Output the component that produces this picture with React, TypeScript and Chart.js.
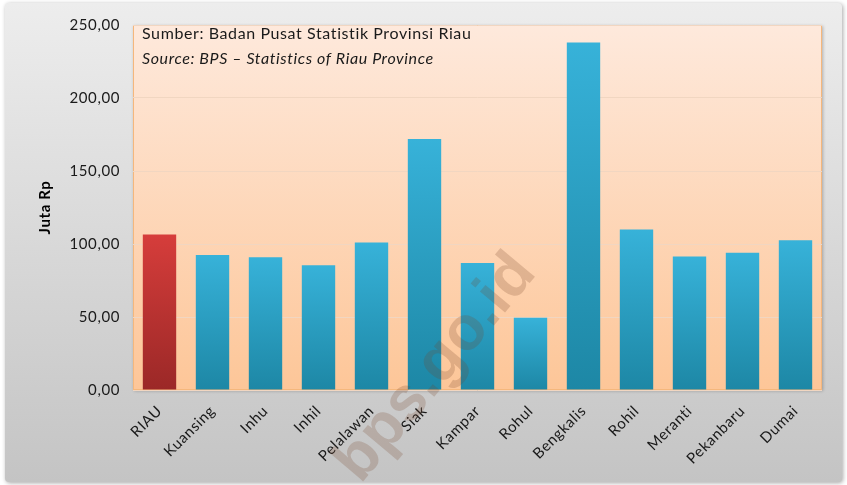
import React, { useEffect, useRef } from 'react';
import { Chart, registerables } from 'chart.js';
Chart.register(...registerables);

const categories = ['RIAU', 'Kuansing', 'Inhu', 'Inhil', 'Pelalawan', 'Siak', 'Kampar', 'Rohul', 'Bengkalis', 'Rohil', 'Meranti', 'Pekanbaru', 'Dumai'];
const values = [106.5, 92.5, 91, 85.5, 101, 172, 87, 49.5, 238, 110, 91.5, 94, 102.5];
const highlightIndex = 0;
const yMin = 0;
const yMax = 250;
const yStep = 50;
const yTitle = 'Juta Rp';
const sourceLine1 = 'Sumber: Badan Pusat Statistik Provinsi Riau';
const sourceLine2 = 'Source: BPS \u2013 Statistics of Riau Province';
const watermark = 'bps.go.id';

const FONT = 'Lato, "Noto Sans", sans-serif';

function fmt(v: number) {
  return v.toFixed(2).replace('.', ',');
}

function roundRect(ctx: CanvasRenderingContext2D, x: number, y: number, w: number, h: number, r: number) {
  ctx.beginPath();
  ctx.moveTo(x + r, y);
  ctx.lineTo(x + w - r, y);
  ctx.quadraticCurveTo(x + w, y, x + w, y + r);
  ctx.lineTo(x + w, y + h - r);
  ctx.quadraticCurveTo(x + w, y + h, x + w - r, y + h);
  ctx.lineTo(x + r, y + h);
  ctx.quadraticCurveTo(x, y + h, x, y + h - r);
  ctx.lineTo(x, y + r);
  ctx.quadraticCurveTo(x, y, x + r, y);
  ctx.closePath();
}

const bgPlugin = {
  id: 'bgPlugin',
  beforeDraw(chart: any) {
    const { ctx, chartArea, width, height } = chart;
    (ctx as any).letterSpacing = '0.6px';
    ctx.save();
    ctx.fillStyle = '#ffffff';
    ctx.fillRect(0, 0, width, height);
    ctx.shadowColor = 'rgba(0,0,0,0.35)';
    ctx.shadowBlur = 4;
    ctx.shadowOffsetX = 1;
    ctx.shadowOffsetY = 1;
    const g = ctx.createLinearGradient(0, 3, 0, 482);
    g.addColorStop(0, '#ededed');
    g.addColorStop(1, '#c4c4c4');
    ctx.fillStyle = g;
    roundRect(ctx, 5, 3, 837, 479, 4);
    ctx.fill();
    ctx.restore();
    ctx.save();
    const { left, top, right, bottom } = chartArea;
    const pg = ctx.createLinearGradient(0, top, 0, bottom);
    pg.addColorStop(0, '#fee9dc');
    pg.addColorStop(1, '#fdc698');
    ctx.shadowColor = 'rgba(0,0,0,0.25)';
    ctx.shadowBlur = 3;
    ctx.shadowOffsetX = 1;
    ctx.shadowOffsetY = 1;
    ctx.fillStyle = pg;
    ctx.fillRect(left, top, right - left, bottom - top);
    ctx.shadowColor = 'transparent';
    ctx.strokeStyle = '#f5b77c';
    ctx.lineWidth = 1;
    ctx.strokeRect(left + 0.5, top + 0.5, right - left - 1, bottom - top - 1);
    ctx.restore();
  },
  afterDatasetsDraw(chart: any) {
    const { ctx, chartArea } = chart;
    ctx.save();
    ctx.fillStyle = '#1a1a1a';
    ctx.textBaseline = 'middle';
    ctx.textAlign = 'left';
    ctx.font = `16px ${FONT}`;
    ctx.fillText(sourceLine1, chartArea.left + 9, chartArea.top + 9);
    ctx.font = `italic 16px ${FONT}`;
    ctx.fillText(sourceLine2, chartArea.left + 9, chartArea.top + 34);
    ctx.restore();
  },
  afterDraw(chart: any) {
    const { ctx } = chart;
    ctx.save();
    (ctx as any).letterSpacing = '0px';
    ctx.translate(436, 368);
    ctx.rotate(-50 * Math.PI / 180);
    ctx.font = `bold 62px Arial, "Liberation Sans", sans-serif`;
    ctx.fillStyle = 'rgba(120,70,40,0.22)';
    ctx.textAlign = 'center';
    ctx.textBaseline = 'middle';
    ctx.fillText(watermark, 0, 0);
    ctx.restore();
  },
};

function barColor(context: any) {
  const chart = context.chart;
  const isHi = context.dataIndex === highlightIndex;
  const topC = isHi ? '#d63d3b' : '#37b2d9';
  const botC = isHi ? '#9b2827' : '#1d87a5';
  const area = chart.chartArea;
  if (!area || !chart.scales || !chart.scales.y) return topC;
  const yScale = chart.scales.y;
  const v = values[context.dataIndex];
  const yTop = yScale.getPixelForValue(v);
  const yBot = yScale.getPixelForValue(0);
  if (!isFinite(yTop) || !isFinite(yBot) || yTop === yBot) return topC;
  const g = chart.ctx.createLinearGradient(0, yTop, 0, yBot);
  g.addColorStop(0, topC);
  g.addColorStop(1, botC);
  return g;
}

export default function App() {
  const ref = useRef<HTMLCanvasElement | null>(null);
  useEffect(() => {
    document.body.style.margin = '0';
    const canvas = ref.current;
    if (!canvas) return;
    const chart = new Chart(canvas, {
      type: 'bar',
      data: {
        labels: categories,
        datasets: [
          {
            data: values,
            backgroundColor: barColor as any,
            borderWidth: 0,
            barPercentage: 0.63,
            categoryPercentage: 1,
          },
        ],
      },
      options: {
        animation: false,
        responsive: false,
        devicePixelRatio: 1,
        layout: { padding: { left: 0, right: 25, top: 25, bottom: 0 } },
        plugins: {
          legend: { display: false },
          tooltip: { enabled: false },
        },
        scales: {
          x: {
            grid: { display: false, drawTicks: false },
            border: { display: false },
            ticks: {
              color: '#1a1a1a',
              font: { family: FONT, size: 15 },
              maxRotation: 45,
              minRotation: 45,
              padding: 12,
              autoSkip: false,
            },
            afterFit(scale: any) {
              scale.height = 95;
            },
          },
          y: {
            min: yMin,
            max: yMax,
            grid: { color: '#f1d6c1', lineWidth: 1, drawTicks: false },
            border: { display: false },
            ticks: {
              stepSize: yStep,
              color: '#1a1a1a',
              font: { family: FONT, size: 15 },
              padding: 13,
              callback: (v: any) => fmt(Number(v)),
            },
            title: {
              display: true,
              text: yTitle,
              color: '#000000',
              font: { family: FONT, size: 15, weight: 'bold' },
              padding: { top: 36, bottom: 0 },
            },
            afterFit(scale: any) {
              scale.width = 133;
            },
          },
        },
      },
      plugins: [bgPlugin],
    });
    return () => chart.destroy();
  }, []);
  return <canvas ref={ref} width={847} height={485} style={{ display: 'block' }} />;
}
